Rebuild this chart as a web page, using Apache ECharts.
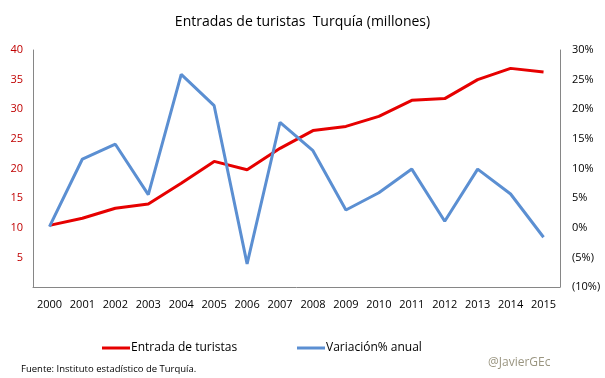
<!DOCTYPE html>
<html>
<head>
<meta charset="utf-8">
<script src="https://cdn.jsdelivr.net/npm/echarts@6/dist/echarts.min.js"></script>
<style>html,body{margin:0;padding:0;background:#fff}#c{width:605px;height:378px}</style>
</head>
<body>
<div id="c"></div>
<script>
const years = ['2000','2001','2002','2003','2004','2005','2006','2007','2008','2009','2010','2011','2012','2013','2014','2015'];
const tourists = [10.4, 11.6, 13.3, 14.0, 17.5, 21.2, 19.8, 23.4, 26.4, 27.1, 28.8, 31.5, 31.8, 35.0, 36.9, 36.3];
const variation = [0.2, 11.6, 14.1, 5.6, 25.9, 20.6, -6.1, 17.8, 13.0, 3.0, 5.9, 9.9, 1.1, 9.9, 5.7, -1.6];
const titleText = 'Entradas de turistas  Turquía (millones)';
const seriesNames = ['Entrada de turistas', 'Variación% anual'];
const sourceText = 'Fuente: Instituto estadístico de Turquía.';
const handleText = '@JavierGEc';

const font = 'Open Sans, Noto Sans, sans-serif';
const legendBase = {
  top: 342, padding: 0, itemWidth: 28, itemHeight: 3, icon: 'rect',
  textStyle: {fontFamily: font, fontSize: 12, color: '#000', padding: [0,0,0,-4]}
};
const chart = echarts.init(document.getElementById('c'));
chart.setOption({
  animation: false,
  title: {text: titleText, left: 'center', top: 10,
    textStyle: {fontFamily: font, fontSize: 14, fontWeight: 'normal', color: '#000'}},
  grid: {left: 33, right: 45, top: 50, bottom: 91},
  legend: [
    Object.assign({}, legendBase, {left: 102, data: [seriesNames[0]]}),
    Object.assign({}, legendBase, {left: 297, data: [seriesNames[1]]})
  ],
  xAxis: {
    type: 'category', data: years, boundaryGap: true,
    axisLine: {lineStyle: {color: '#868686'}}, axisTick: {show: false},
    axisLabel: {fontFamily: font, fontSize: 11, color: '#000', margin: 12}
  },
  yAxis: [
    {type: 'value', min: 0, max: 40, interval: 5, splitLine: {show: false},
     axisLine: {show: true, lineStyle: {color: '#868686'}}, axisTick: {show: false},
     axisLabel: {fontFamily: font, fontSize: 11, color: '#c00000', margin: 10,
       formatter: v => v === 0 ? '' : String(v)}},
    {type: 'value', min: -10, max: 30, interval: 5, splitLine: {show: false},
     axisLine: {show: true, lineStyle: {color: '#868686'}}, axisTick: {show: false},
     axisLabel: {fontFamily: font, fontSize: 11, color: '#000', margin: 12, align: 'left',
       formatter: v => v < 0 ? '(' + (-v) + '%)' : v + '%'}}
  ],
  series: [
    {name: seriesNames[0], type: 'line', yAxisIndex: 0, data: tourists, symbol: 'none',
     lineStyle: {color: '#e60000', width: 3}, itemStyle: {color: '#e60000'}},
    {name: seriesNames[1], type: 'line', yAxisIndex: 1, data: variation, symbol: 'none',
     lineStyle: {color: '#5b8fd2', width: 3}, itemStyle: {color: '#5b8fd2'}}
  ],
  graphic: [
    {type: 'text', left: 21, top: 364, style: {text: sourceText, fontFamily: font, fontSize: 9.5, fill: '#000'}},
    {type: 'text', left: 488, top: 357, style: {text: handleText, fontFamily: font, fontSize: 12, fill: '#9a9580'}}
  ]
});
</script>
</body>
</html>
